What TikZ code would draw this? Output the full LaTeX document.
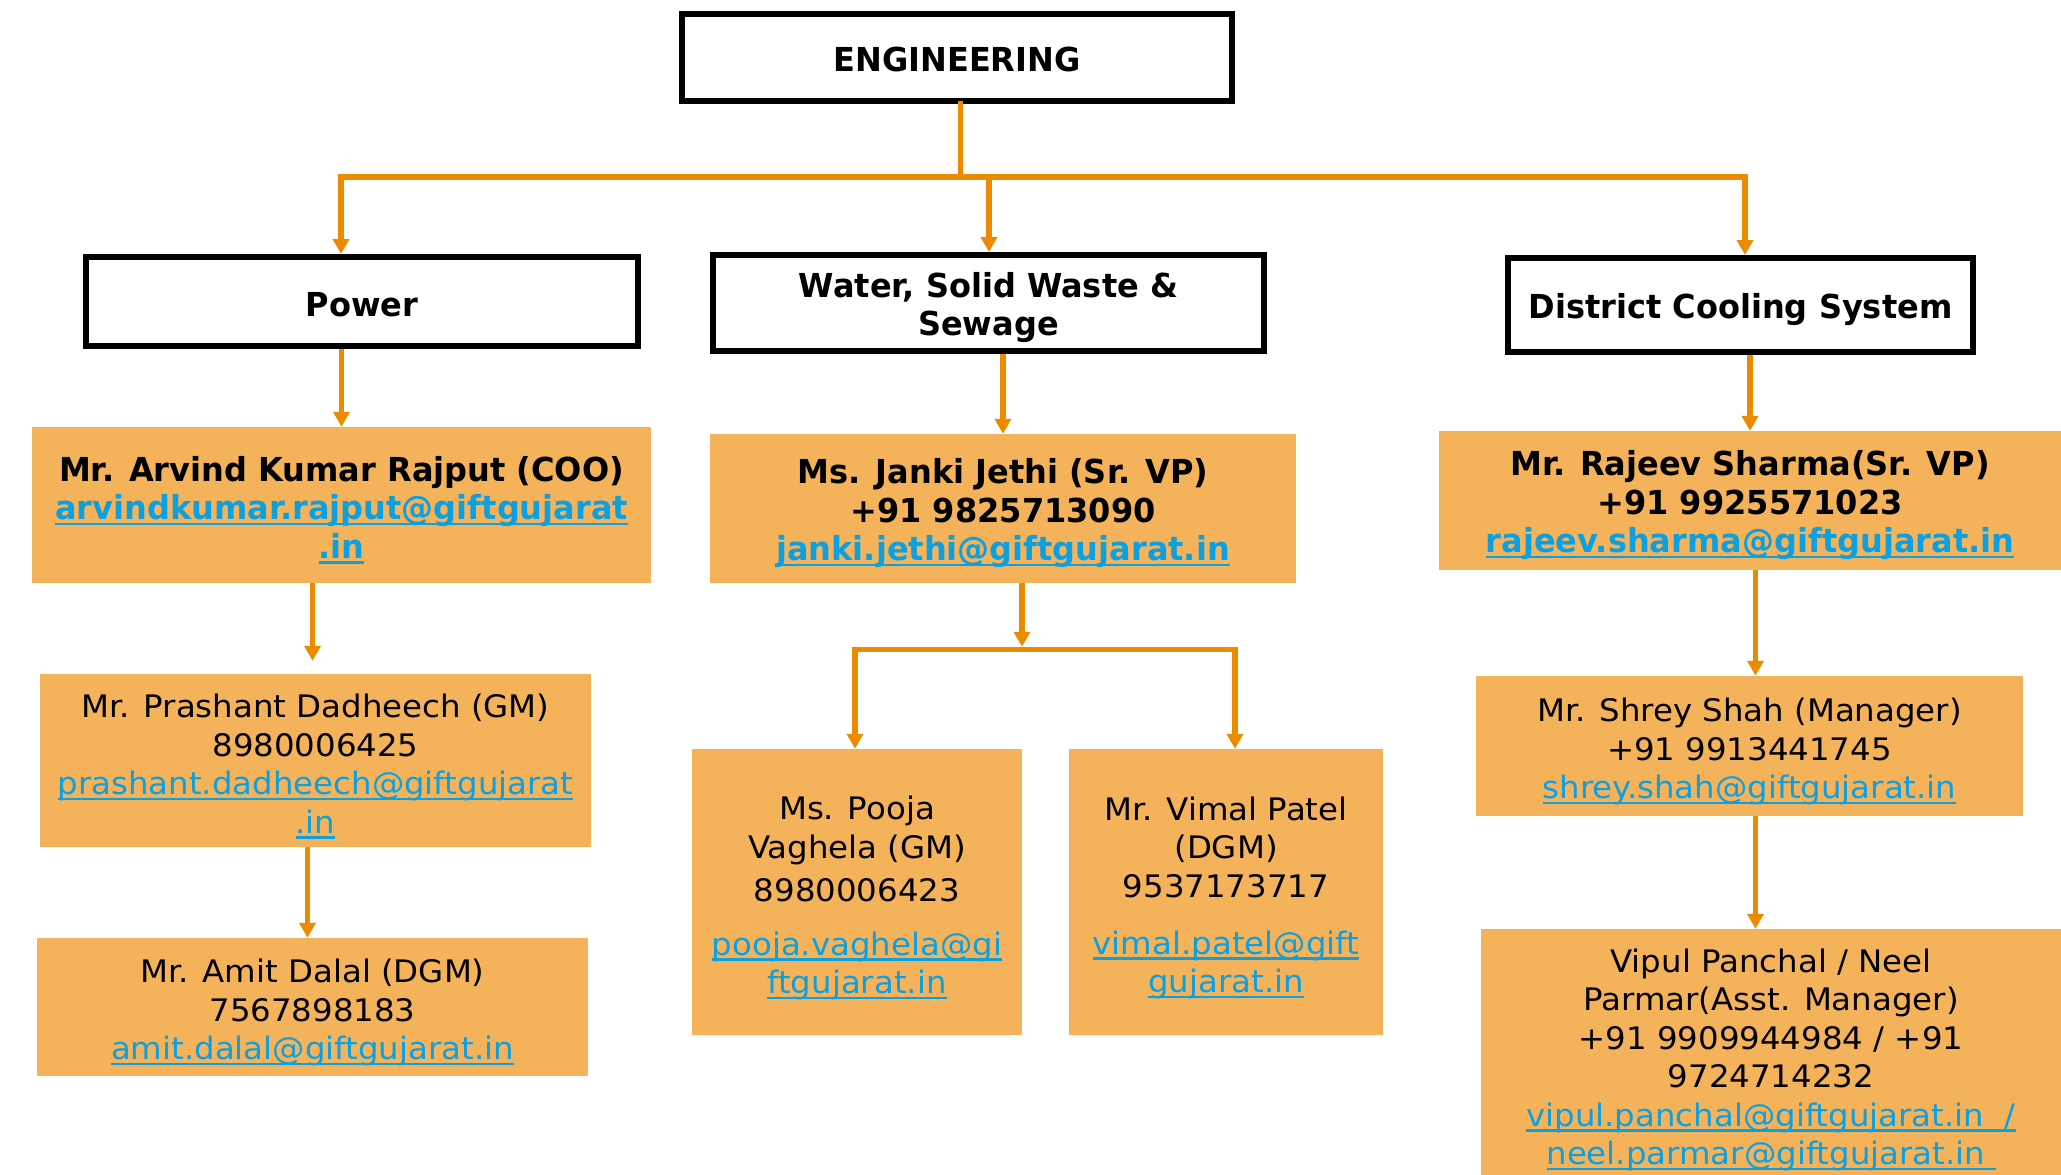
\documentclass[tikz,border=0pt]{standalone}
\usepackage{fontspec}
\setmainfont{DejaVu Sans}[UprightFeatures={FakeStretch=1.045}, BoldFeatures={FakeStretch=0.97}]
\usetikzlibrary{arrows.meta}

\definecolor{boxfill}{HTML}{F4B35A}
\definecolor{lineorange}{HTML}{EC8B00}
\definecolor{mailblue}{HTML}{0DA0E0}

% underlined e-mail address in link blue
\newcommand\mail[1]{{\color{mailblue}\setbox0=\hbox{#1}\rlap{\rule[-5.5pt]{\wd0}{2.3pt}}\box0}}
% invisible strut that sets the height of a first line
\newcommand\lift[1]{\rule{0pt}{#1}}

\tikzset{
  head/.style={draw=black, line width=6pt, fill=white, align=center, inner sep=0pt,
    font=\fontsize{33}{38}\selectfont\bfseries},
  card/.style={fill=boxfill, align=center, inner sep=0pt,
    font=\fontsize{31}{38.5}\selectfont},
  cardbold/.style={card, font=\fontsize{33}{38.5}\selectfont\bfseries},
  conn/.style={draw=lineorange, line width=5.5pt, line cap=rect},
  arr/.style={draw=lineorange, line width=5.5pt, -{Triangle[width=16pt,length=15pt]}},
}

\begin{document}
\begin{tikzpicture}[x=1pt, y=-1pt]
\useasboundingbox (0,0) rectangle (2061,1175);

% department level
\node[head, minimum width=550pt, minimum height=87pt] (eng) at (957,57.5) {\lift{28.6pt}ENGINEERING};
\node[head, minimum width=552pt, minimum height=89pt] (power) at (362,301.5) {\lift{29.6pt}Power};
\node[head, minimum width=551pt, minimum height=96pt] (water) at (988.5,303) {\lift{35pt}Water, Solid Waste \&\\Sewage};
\node[head, minimum width=465pt, minimum height=94pt] (dcs) at (1740.5,305) {\lift{34.7pt}District Cooling System};

% heads of each division
\node[cardbold, minimum width=619pt, minimum height=156pt] (arvind) at (341.5,505)
  {\lift{35pt}Mr. Arvind Kumar Rajput (COO)\\\mail{arvindkumar.rajput@giftgujarat}\\\mail{.in}};
\node[cardbold, minimum width=586pt, minimum height=149pt] (janki) at (1003,508.5)
  {\lift{35pt}Ms. Janki Jethi (Sr. VP)\\+91 9825713090\\\mail{janki.jethi@giftgujarat.in}};
\node[cardbold, minimum width=622pt, minimum height=139pt] (rajeev) at (1750,500.5)
  {\lift{35pt}Mr. Rajeev Sharma(Sr. VP)\\+91 9925571023\\\mail{rajeev.sharma@giftgujarat.in}};

% staff
\node[card, minimum width=551pt, minimum height=173pt] (prashant) at (315.5,760.5)
  {\lift{35pt}Mr. Prashant Dadheech (GM)\\8980006425\\\mail{prashant.dadheech@giftgujarat}\\\mail{.in}};
\node[card, minimum width=551pt, minimum height=138pt] (amit) at (312.5,1007)
  {\lift{35pt}Mr. Amit Dalal (DGM)\\7567898183\\\mail{amit.dalal@giftgujarat.in}};
\node[card, minimum width=330pt, minimum height=286pt] (pooja) at (857,892)
  {\lift{35pt}Ms. Pooja\\[1pt]Vaghela (GM)\\[4.5pt]8980006423\\[15pt]\mail{pooja.vaghela@gi}\\\mail{ftgujarat.in}};
\node[card, minimum width=314pt, minimum height=286pt] (vimal) at (1226,892)
  {\lift{35pt}Mr. Vimal Patel\\(DGM)\\9537173717\\[18.5pt]\mail{vimal.patel@gift}\\\mail{gujarat.in}};
\node[card, minimum width=547pt, minimum height=140pt] (shrey) at (1749.5,746)
  {\lift{35pt}Mr. Shrey Shah (Manager)\\+91 9913441745\\\mail{shrey.shah@giftgujarat.in}};
\node[card, minimum width=580pt, minimum height=252pt] (vipul) at (1771,1055)
  {\lift{33pt}Vipul Panchal / Neel\\Parmar(Asst. Manager)\\+91 9909944984 / +91\\9724714232\\
   \mail{vipul.panchal@giftgujarat.in\ \ /}\\\mail{neel.parmar@giftgujarat.in\ }};

% top distribution bus
\coordinate (jL) at (341,177);
\coordinate (jM) at (989,177);
\coordinate (jR) at (1745,177);
\draw[conn] ([xshift=3.5pt]eng.south) -- ([xshift=3.5pt]eng.south |- jM);
\draw[conn] (jL) -- (jR);
\draw[arr] (jL) -- (jL |- power.north);
\draw[arr] (jM) -- (jM |- water.north);
\draw[arr] (jR) -- (jR |- dcs.north);

% division heads
\draw[arr] (arvind.north |- power.south) -- (arvind.north);
\draw[arr] (janki.north |- water.south) -- (janki.north);
\draw[arr] (rajeev.north |- dcs.south) -- (rajeev.north);

% power chain
\draw[arr, shorten >=13pt] ([xshift=-3pt]prashant.north |- arvind.south) -- ([xshift=-3pt]prashant.north);
\draw[arr] ([xshift=-5pt]amit.north |- prashant.south) -- ([xshift=-5pt]amit.north);

% water split
\coordinate (kL) at (855,649.5);
\coordinate (kM) at (1022,649.5);
\coordinate (kR) at (1235,649.5);
\draw[arr] (kM |- janki.south) -- ([yshift=2.75pt]kM);
\draw[conn] (kL) -- (kR);
\draw[arr] (kL) -- (kL |- pooja.north);
\draw[arr] (kR) -- (kR |- vimal.north);

% cooling chain
\draw[arr] ([xshift=6pt]shrey.north |- rajeev.south) -- ([xshift=6pt]shrey.north);
\draw[arr] ([xshift=6pt]shrey.south) -- ([xshift=6pt]shrey.south |- vipul.north);
\end{tikzpicture}
\end{document}
